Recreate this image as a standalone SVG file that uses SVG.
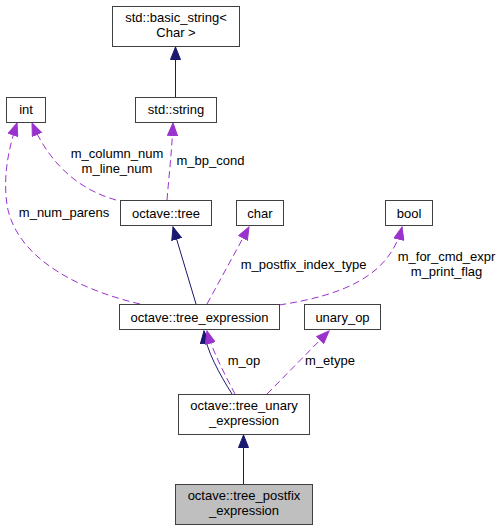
<svg xmlns="http://www.w3.org/2000/svg" width="501" height="531" viewBox="0 0 501 531">
<style>
.box{fill:#ffffff;stroke:#404040;stroke-width:1}
.cur{fill:#bfbfbf;stroke:#404040;stroke-width:1}
text{font-family:"Liberation Sans",Arial,Helvetica,sans-serif;font-size:13px;fill:#000000}
.c{text-anchor:middle}
.inh{fill:none;stroke:#191970;stroke-width:1}
.use{fill:none;stroke:#9a32cd;stroke-width:1;stroke-dasharray:7,4}
</style>
<defs>
<marker id="ahN" markerUnits="userSpaceOnUse" viewBox="0 0 14 11" refX="13" refY="5.5" markerWidth="14" markerHeight="11" orient="auto">
<path d="M0.5,0.5 L13,5.5 L0.5,10.5 z" fill="#191970" stroke="#191970" stroke-width="1"/>
</marker>
<marker id="ahP" markerUnits="userSpaceOnUse" viewBox="0 0 14 11" refX="13" refY="5.5" markerWidth="14" markerHeight="11" orient="auto">
<path d="M0.5,0.5 L13,5.5 L0.5,10.5 z" fill="#9a32cd" stroke="#9a32cd" stroke-width="1" stroke-dasharray="none"/>
</marker>
</defs>
<g id="connectors">
<path class="inh" d="M175.5,97 L175.5,47" marker-end="url(#ahN)"/>
<path class="use" d="M167,200 C169,175 172,150 173,123" marker-end="url(#ahP)"/>
<path class="use" d="M116,200 C80,190 50,165 32,123" marker-end="url(#ahP)"/>
<path class="use" d="M140,304 C80,290 20,260 8,210 C2,180 8,150 17,123" marker-end="url(#ahP)"/>
<path class="inh" d="M196,304 L173,227" marker-end="url(#ahN)"/>
<path class="use" d="M207,304 L249,227" marker-end="url(#ahP)"/>
<path class="use" d="M279,305 C345,295 390,275 402,227" marker-end="url(#ahP)"/>
<path class="inh" d="M232,394 C220,375 206,350 204,331" marker-end="url(#ahN)"/>
<path class="use" d="M235,394 C225,375 212,350 207,331" marker-end="url(#ahP)"/>
<path class="use" d="M267,394 L329,331" marker-end="url(#ahP)"/>
<path class="inh" d="M243.5,484 L243.5,435" marker-end="url(#ahN)"/>
<text class="c" x="117" y="157.5">m_column_num</text>
<text class="c" x="117" y="172.5">m_line_num</text>
<text class="c" x="210.5" y="165">m_bp_cond</text>
<text class="c" x="64" y="217">m_num_parens</text>
<text class="c" x="303.5" y="269">m_postfix_index_type</text>
<text class="c" x="446.5" y="261">m_for_cmd_expr</text>
<text class="c" x="446.5" y="276">m_print_flag</text>
<text class="c" x="244" y="365">m_op</text>
<text class="c" x="330" y="365">m_etype</text>
</g>
<g id="node_basic_string">
<rect class="box" x="112.5" y="6.5" width="127" height="40"/>
<text class="c" x="176" y="22">std::basic_string&lt;</text>
<text class="c" x="176" y="37">Char &gt;</text>
</g>
<g id="node_int">
<rect class="box" x="6.5" y="97.5" width="39" height="25"/>
<text class="c" x="26" y="114">int</text>
</g>
<g id="node_std_string">
<rect class="box" x="135.5" y="97.5" width="81" height="25"/>
<text class="c" x="176" y="114">std::string</text>
</g>
<g id="node_tree">
<rect class="box" x="120.5" y="200.5" width="91" height="25"/>
<text class="c" x="166" y="217.5">octave::tree</text>
</g>
<g id="node_char">
<rect class="box" x="236.5" y="200.5" width="47" height="25"/>
<text class="c" x="260" y="217.5">char</text>
</g>
<g id="node_bool">
<rect class="box" x="385.5" y="200.5" width="47" height="25"/>
<text class="c" x="409" y="217.5">bool</text>
</g>
<g id="node_tree_expression">
<rect class="box" x="119.5" y="304.5" width="160" height="25"/>
<text class="c" x="199.5" y="321.5">octave::tree_expression</text>
</g>
<g id="node_unary_op">
<rect class="box" x="304.5" y="304.5" width="76" height="25"/>
<text class="c" x="342.5" y="321.5">unary_op</text>
</g>
<g id="node_tree_unary_expression">
<rect class="box" x="178.5" y="394.5" width="131" height="40"/>
<text class="c" x="244" y="410">octave::tree_unary</text>
<text class="c" x="244" y="425">_expression</text>
</g>
<g id="node_tree_postfix_expression">
<rect class="cur" x="175.5" y="484.5" width="137" height="40"/>
<text class="c" x="244" y="500">octave::tree_postfix</text>
<text class="c" x="244" y="515">_expression</text>
</g>
</svg>
